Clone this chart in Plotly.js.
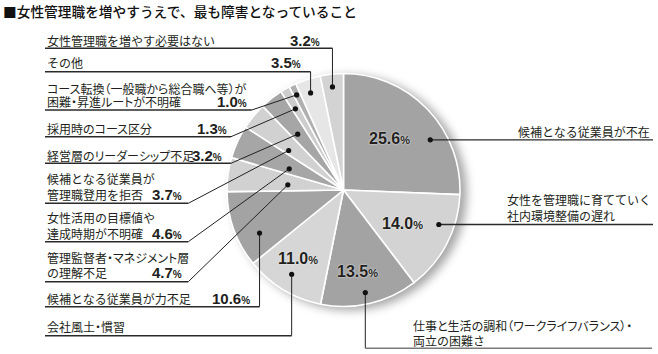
<!DOCTYPE html>
<html><head><meta charset="utf-8">
<script src="https://cdn.plot.ly/plotly-3.0.1.min.js"></script>
<style>
html,body{margin:0;padding:0;background:#fff;}
#chart{width:658px;height:354px;}
.pielayer{filter:drop-shadow(6px 3px 5px rgba(0,0,0,0.35));}
</style></head><body><div id="chart"></div>
<script>
// ---- data ----
const categories = [
  "候補となる従業員が不在",
  "女性を管理職に育てていく社内環境整備の遅れ",
  "仕事と生活の調和（ワークライフバランス）・両立の困難さ",
  "会社風土・慣習",
  "候補となる従業員が力不足",
  "管理監督者・マネジメント層の理解不足",
  "女性活用の目標値や達成時期が不明確",
  "候補となる従業員が管理職登用を拒否",
  "経営層のリーダーシップ不足",
  "採用時のコース区分",
  "コース転換（一般職から総合職へ等）が困難・昇進ルートが不明確",
  "その他",
  "女性管理職を増やす必要はない"
];
const values = [25.6, 14.0, 13.5, 11.0, 10.6, 4.7, 4.6, 3.7, 3.2, 1.3, 1.0, 3.5, 3.2];
const labelLines = [
  ["候補となる従業員が不在"],
  ["女性を管理職に育てていく", "社内環境整備の遅れ"],
  ["仕事と生活の調和（ワークライフバランス）・", "両立の困難さ"],
  ["会社風土・慣習"],
  ["候補となる従業員が力不足"],
  ["管理監督者・マネジメント層", "の理解不足"],
  ["女性活用の目標値や", "達成時期が不明確"],
  ["候補となる従業員が", "管理職登用を拒否"],
  ["経営層のリーダーシップ不足"],
  ["採用時のコース区分"],
  ["コース転換（一般職から総合職へ等）が", "困難・昇進ルートが不明確"],
  ["その他"],
  ["女性管理職を増やす必要はない"]
];
const titleText = "■女性管理職を増やすうえで、最も障害となっていること";

// ---- styling / layout ----
const W = 658, H = 354;
const CX = 343.5, CY = 190, R = 116.5;
const sliceColors = ["#a3a3a3","#d3d3d3","#a3a3a3","#d6d6d6","#a3a3a3","#d1d1d1","#a6a6a6","#d1d1d1","#a6a6a6","#cdcdcd","#b0b0b0","#e6e6e6","#d3d3d3"];
// dot position inside slice: [fraction along slice angle, fraction of radius]
const dotPos = [[0.65,0.86],[0.35,0.87],[0.52,0.90],[0.51,0.85],[0.31,0.81],[0.36,0.48],[0.31,0.50],[0.23,0.58],[0.40,0.62],[0.38,0.81],[0.42,0.91],[0.43,0.88],[0.47,0.89]];
// inside percentage label position (null = outside label)
const inPos = [[0.455,0.59],[0.55,0.58],[0.56,0.71],[0.56,0.71],null,null,null,null,null,null,null,null,null];
// leader route: lineY (null=dot y), elbowX (null=dot x), endX; text placement
const callout = [
  {lineY:null, elbowX:null, endX:653, tx:652, anchor:"right", ty:[131.5]},
  {lineY:null, elbowX:null, endX:653, tx:505, anchor:"left", ty:[199,215]},
  {lineY:348.3, elbowX:null, endX:652, tx:411, anchor:"left", ty:[325.5,340], color:"#7a7a7a"},
  {lineY:335.7, elbowX:null, endX:45, tx:45, anchor:"left", ty:[326.5]},
  {lineY:306.7, elbowX:null, endX:45, tx:45, anchor:"left", ty:[298.5], px:252},
  {lineY:281.7, elbowX:188.3, endX:45, tx:45, anchor:"left", ty:[257,272.5], px:184},
  {lineY:241.7, elbowX:188.3, endX:45, tx:45, anchor:"left", ty:[217.5,233.5], px:184},
  {lineY:203.3, elbowX:188.3, endX:45, tx:45, anchor:"left", ty:[178,194], px:184},
  {lineY:163.3, elbowX:231, endX:45, tx:45, anchor:"left", ty:[155], px:224},
  {lineY:136.7, elbowX:231, endX:45, tx:45, anchor:"left", ty:[128], px:229},
  {lineY:110, elbowX:251.7, endX:45, tx:45, anchor:"left", ty:[88,101.5], px:249},
  {lineY:71.7, elbowX:null, endX:45, tx:45, anchor:"left", ty:[62.5], px:303},
  {lineY:48.3, elbowX:null, endX:45, tx:45, anchor:"left", ty:[40], px:322}
];

const JP = "'Noto Sans CJK JP', sans-serif";
const NUM = "'Liberation Sans', Arial, sans-serif";
const TXT = "#231f20";

const total = values.reduce((a,b)=>a+b,0);
let cum = 0;
const starts = values.map(v => { const s = cum; cum += v; return s; });
function polar(i, t, f) {
  const a = 2*Math.PI*(starts[i] + t*values[i])/total;
  return [CX + f*R*Math.sin(a), CY - f*R*Math.cos(a)];
}
function pct(v, small) {
  return '<b>' + v.toFixed(1) + '</b><span style="font-size:' + small + 'px"><b>%</b></span>';
}

const shapes = [];
const annotations = [];
const proportional = [];
values.forEach((v, i) => {
  const [dx, dy] = polar(i, dotPos[i][0], dotPos[i][1]);
  const c = callout[i];
  const ey = c.lineY == null ? dy : c.lineY;
  const ex = c.elbowX == null ? dx : c.elbowX;
  shapes.push({type:"path", xref:"x", yref:"y", layer:"above",
    path:`M${dx},${dy} L${ex},${ey}`, line:{color:"#222", width:1}});
  shapes.push({type:"path", xref:"x", yref:"y", layer:"above",
    path:`M${ex},${ey} L${c.endX},${ey}`, line:{color:c.color || "#2a2a2a", width:1.4}});
  shapes.push({type:"circle", xref:"x", yref:"y", layer:"above",
    x0:dx-2.6, x1:dx+2.6, y0:dy-2.6, y1:dy+2.6, fillcolor:"#111", line:{width:0}});
  labelLines[i].forEach((ln, k) => {
    if (/[ァ-ヶー（）・]/.test(ln)) proportional.push(annotations.length);
    annotations.push({xref:"x", yref:"y", x:c.tx, y:c.ty[k], text:ln, showarrow:false,
      xanchor:c.anchor, align:c.anchor, yanchor:"middle", font:{family:JP, size:12, color:TXT}});
  });
  if (c.px) {
    annotations.push({xref:"x", yref:"y", x:c.px, y:c.ty[c.ty.length-1], text:pct(v,10), showarrow:false,
      xanchor:"right", align:"right", yanchor:"middle", font:{family:NUM, size:15, color:TXT}});
  }
  if (inPos[i]) {
    const [lx, ly] = polar(i, inPos[i][0], inPos[i][1]);
    annotations.push({xref:"x", yref:"y", x:lx, y:ly, text:pct(v,11), showarrow:false,
      xanchor:"center", yanchor:"middle", font:{family:NUM, size:16, color:TXT, shadow:"0px 0px 2px #fff"}});
  }
});
annotations.push({xref:"x", yref:"y", x:1, y:11, text:titleText, showarrow:false,
  xanchor:"left", align:"left", yanchor:"middle", font:{family:JP, size:13.7, color:"#111", weight:500}});

// proportional kana/punctuation spacing for lines with katakana or brackets
const st = document.createElement("style");
st.textContent = proportional.map(k => `.annotation[data-index="${k}"] .annotation-text{font-feature-settings:"palt" 1;}`).join("\n");
document.head.appendChild(st);

const pie = {
  type:"pie", values:values, labels:categories, sort:false, direction:"clockwise", rotation:0,
  marker:{colors:sliceColors, line:{color:"#fff", width:1.6}},
  textinfo:"none", hoverinfo:"none", showlegend:false,
  domain:{x:[(CX-R)/W,(CX+R)/W], y:[(H-CY-R)/H,(H-CY+R)/H]}
};
const layout = {
  width:W, height:H, margin:{l:0,r:0,t:0,b:0},
  paper_bgcolor:"#fff", plot_bgcolor:"rgba(0,0,0,0)",
  xaxis:{range:[0,W], visible:false, fixedrange:true},
  yaxis:{range:[H,0], visible:false, fixedrange:true},
  showlegend:false, shapes:shapes, annotations:annotations
};
Plotly.newPlot("chart", [pie], layout, {staticPlot:true, displayModeBar:false});
</script></body></html>
